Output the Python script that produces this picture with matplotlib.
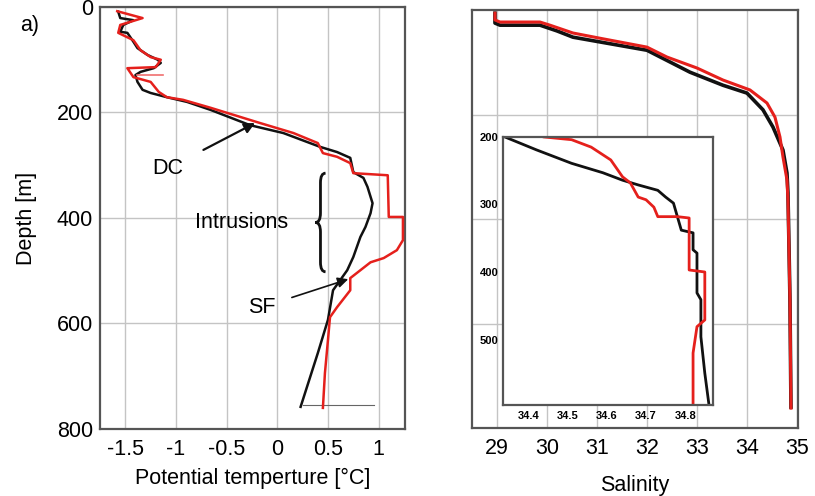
import numpy as np
import matplotlib
matplotlib.use('Agg')
import matplotlib.pyplot as plt
from matplotlib.path import Path
from matplotlib.patches import PathPatch

plt.rcParams['font.family'] = ['Liberation Sans', 'DejaVu Sans']
plt.rcParams['axes.unicode_minus'] = False

# --- potential temperature profiles (depth [m], theta [degC]) ---
dc_depth = [9, 21, 25, 34, 47, 49, 66, 78, 91, 100, 106, 116, 123, 129, 142, 157, 163,
            171, 180, 195, 224, 239, 265, 275, 286, 313, 324, 341, 372, 391, 417, 436,
            474, 499, 518, 537, 593, 656, 758]
dc_temp = [-1.57, -1.55, -1.42, -1.52, -1.55, -1.48, -1.42, -1.38, -1.28, -1.18, -1.15,
           -1.22, -1.35, -1.40, -1.38, -1.33, -1.25, -1.09, -0.89, -0.66, -0.27, 0.06,
           0.42, 0.59, 0.72, 0.75, 0.85, 0.89, 0.94, 0.92, 0.87, 0.82, 0.75, 0.69, 0.62,
           0.55, 0.50, 0.40, 0.23]

sf_depth = [8, 21, 34, 49, 63, 82, 95, 100, 114, 116, 133, 142, 161, 171, 176, 191, 220,
            239, 258, 277, 284, 296, 315, 319, 398, 398, 442, 461, 476, 484, 499, 514,
            537, 569, 588, 631, 694, 760]
sf_temp = [-1.58, -1.33, -1.55, -1.57, -1.42, -1.35, -1.25, -1.15, -1.20, -1.48, -1.42,
           -1.25, -1.17, -1.09, -0.93, -0.66, -0.17, 0.16, 0.40, 0.45, 0.59, 0.72, 0.75,
           1.09, 1.10, 1.24, 1.24, 1.18, 1.05, 0.92, 0.82, 0.72, 0.72, 0.59, 0.52, 0.50,
           0.47, 0.45]

sf_stub_depth = [129, 129]
sf_stub_temp = [-1.38, -1.13]

base_depth = [755, 755]
base_temp = [0.25, 0.95]

# --- salinity profiles (full depth) ---
dc_sal_depth = [6, 25, 29, 29, 40, 52, 77, 119, 144, 159, 191, 224, 268, 312, 350, 450, 555, 760]
dc_sal = [28.96, 28.96, 29.06, 29.86, 30.2, 30.52, 32.0, 32.86, 33.52, 34.0, 34.32, 34.52,
          34.72, 34.80, 34.82, 34.84, 34.86, 34.88]

sf_sal_depth = [6, 19, 23, 23, 29, 44, 54, 71, 90, 111, 134, 153, 178, 205, 243, 281, 325,
                364, 555, 762]
sf_sal = [28.96, 28.96, 29.06, 29.86, 30.06, 30.52, 31.06, 32.0, 32.4, 33.0, 33.52, 34.06,
          34.4, 34.56, 34.66, 34.72, 34.80, 34.82, 34.86, 34.88]

# --- salinity inset (200-600 m) ---
dc_ins_depth = [200, 219, 239, 253, 264, 271, 279, 289, 298, 318, 338, 342, 367, 372, 431,
                441, 496, 550, 594]
dc_ins_sal = [34.34, 34.42, 34.51, 34.59, 34.64, 34.68, 34.73, 34.75, 34.77, 34.78, 34.79,
              34.82, 34.82, 34.83, 34.83, 34.84, 34.84, 34.85, 34.86]

sf_ins_depth = [200, 204, 215, 234, 259, 268, 289, 293, 304, 318, 318, 320, 397, 400, 471,
                481, 520, 570, 594]
sf_ins_sal = [34.44, 34.51, 34.56, 34.61, 34.64, 34.66, 34.68, 34.70, 34.72, 34.73, 34.78,
              34.81, 34.81, 34.85, 34.85, 34.83, 34.82, 34.82, 34.82]

temp_ticks = [-1.5, -1, -0.5, 0, 0.5, 1]
temp_labels = ['-1.5', '-1', '-0.5', '0', '0.5', '1']
depth_ticks = [0, 200, 400, 600, 800]
sal_ticks = [29, 30, 31, 32, 33, 34, 35]
ins_sal_ticks = [34.4, 34.5, 34.6, 34.7, 34.8]
ins_depth_ticks = [200, 300, 400, 500]

RED = '#e5201c'
BLACK = '#111111'
GRID = '#c4c4c4'
SPINE = '#555555'

fig = plt.figure(figsize=(8.15, 4.96), dpi=100)
ax1 = fig.add_axes([0.1227, 0.1351, 0.3742, 0.8508])
ax2 = fig.add_axes([0.5791, 0.1371, 0.4000, 0.8427])
ax3 = fig.add_axes([0.6172, 0.1835, 0.2577, 0.5403])


def style(ax, fs, grid=True):
    for s in ax.spines.values():
        s.set_color(SPINE)
        s.set_linewidth(1.6)
    ax.tick_params(length=0, labelsize=fs)
    if grid:
        ax.grid(True, color=GRID, linewidth=1)
        ax.set_axisbelow(True)


# temperature panel
ax1.plot(dc_temp, dc_depth, color=BLACK, lw=1.8, zorder=3)
ax1.plot(sf_temp, sf_depth, color=RED, lw=1.8, zorder=4)
ax1.plot(sf_stub_temp, sf_stub_depth, color='#f07070', lw=1.2, zorder=4)
ax1.plot(base_temp, base_depth, color='#666666', lw=0.8, zorder=2)
ax1.set_xlim(-1.75, 1.26)
ax1.set_ylim(800, 0)
ax1.set_xticks(temp_ticks)
ax1.set_xticklabels(temp_labels)
ax1.set_yticks(depth_ticks)
style(ax1, 15.5)
ax1.tick_params(axis='x', pad=7)
ax1.tick_params(axis='y', pad=5)
ax1.set_xlabel('Potential temperture [°C]', fontsize=15.5, labelpad=6)
ax1.set_ylabel('Depth [m]', fontsize=15.5, labelpad=14)

ax1.annotate('DC', xy=(-0.22, 220), xytext=(-1.08, 306), fontsize=15.5,
             ha='center', va='center',
             arrowprops=dict(arrowstyle='-|>', color=BLACK, lw=1.6, shrinkA=14, shrinkB=0))
ax1.annotate('SF', xy=(0.70, 516), xytext=(-0.15, 569), fontsize=15.5,
             ha='center', va='center',
             arrowprops=dict(arrowstyle='-|>', color=BLACK, lw=1.2, shrinkA=10, shrinkB=0))
ax1.text(-0.35, 408, 'Intrusions', fontsize=15.5, ha='center', va='center')

# curly brace next to "Intrusions"
bx, bw, b0, b1 = 0.376, 0.10, 315, 502
bm = (b0 + b1) / 2
r = 18
verts = [(bx + bw, b0), (bx + bw / 2, b0), (bx + bw / 2, b0 + r),
         (bx + bw / 2, bm - r), (bx + bw / 2, bm), (bx, bm),
         (bx + bw / 2, bm), (bx + bw / 2, bm + r),
         (bx + bw / 2, b1 - r), (bx + bw / 2, b1), (bx + bw, b1)]
codes = [Path.MOVETO, Path.CURVE3, Path.CURVE3, Path.LINETO, Path.CURVE3, Path.CURVE3,
         Path.CURVE3, Path.CURVE3, Path.LINETO, Path.CURVE3, Path.CURVE3]
ax1.add_patch(PathPatch(Path(verts, codes), fill=False, lw=2.0, color=BLACK, zorder=5))

# salinity panel
ax2.plot(dc_sal, dc_sal_depth, color=BLACK, lw=2.6)
ax2.plot(sf_sal, sf_sal_depth, color=RED, lw=2.2)
ax2.set_xlim(28.5, 35.02)
ax2.set_ylim(800, 0)
ax2.set_xticks(sal_ticks)
ax2.set_yticks([200, 400, 600])
ax2.set_yticklabels([])
style(ax2, 15.5)
ax2.tick_params(axis='x', pad=7)
ax2.set_xlabel('Salinity', fontsize=15.5, labelpad=12)

# inset
ax3.plot(dc_ins_sal, dc_ins_depth, color=BLACK, lw=2.0)
ax3.plot(sf_ins_sal, sf_ins_depth, color=RED, lw=2.0)
ax3.set_xlim(34.335, 34.871)
ax3.set_ylim(597, 200)
ax3.set_xticks(ins_sal_ticks)
ax3.set_yticks(ins_depth_ticks)
style(ax3, 8, grid=False)
for lab in ax3.get_xticklabels() + ax3.get_yticklabels():
    lab.set_fontweight('bold')
ax3.tick_params(axis='x', pad=4)
ax3.tick_params(axis='y', pad=3)

fig.text(30 / 815, 1 - 25 / 496, 'a)', fontsize=15.5, ha='center', va='center')

fig.savefig('out.png', dpi=100)
